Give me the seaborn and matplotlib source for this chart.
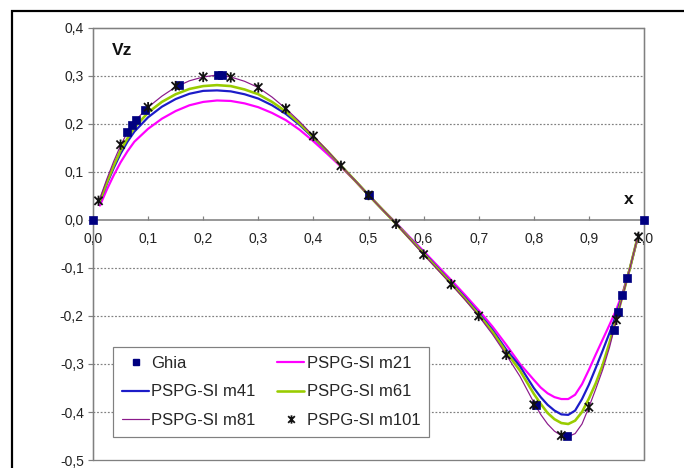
import matplotlib
matplotlib.use("Agg")
import numpy as np
import pandas as pd
import matplotlib.pyplot as plt
from matplotlib.path import Path
from matplotlib.lines import Line2D
from matplotlib.patches import Rectangle
import seaborn as sns

# Vertical velocity along the horizontal centre line of the cavity
x_ghia = [0.0, 0.0625, 0.0703, 0.0781, 0.0938, 0.1563, 0.2266, 0.2344, 0.5,
          0.8047, 0.8594, 0.9453, 0.9531, 0.9609, 0.9688, 1.0]
v_ghia = [0.0, 0.18360, 0.19713, 0.20920, 0.22965, 0.28124, 0.30203, 0.30174,
          0.05186, -0.38598, -0.44993, -0.22847, -0.19254, -0.15663, -0.12146, 0.0]

x_line = [0.0125, 0.025, 0.0375, 0.05, 0.0625, 0.075, 0.1, 0.125, 0.15, 0.175,
          0.2, 0.225, 0.25, 0.275, 0.3, 0.325, 0.35, 0.375, 0.4, 0.425, 0.45,
          0.475, 0.5, 0.525, 0.55, 0.575, 0.6, 0.625, 0.65, 0.675, 0.7, 0.725,
          0.75, 0.775, 0.8, 0.8125, 0.825, 0.8375, 0.85, 0.8625, 0.875, 0.8875,
          0.9, 0.9125, 0.925, 0.9375, 0.95, 0.9625, 0.975, 0.9875]

v_m21 = [0.030, 0.063, 0.093, 0.120, 0.143, 0.163, 0.190, 0.211, 0.227, 0.239,
         0.246, 0.249, 0.248, 0.243, 0.235, 0.223, 0.208, 0.188, 0.164, 0.138,
         0.111, 0.082, 0.052, 0.022, -0.006, -0.036, -0.065, -0.095, -0.125,
         -0.156, -0.188, -0.222, -0.260,
         -0.300, -0.333, -0.349, -0.361, -0.369, -0.373, -0.373, -0.364,
         -0.342, -0.312, -0.280, -0.249, -0.218, -0.186, -0.147, -0.098, -0.042]

v_m41 = [0.038, 0.075, 0.108, 0.138, 0.163, 0.184, 0.214, 0.236, 0.252, 0.263,
         0.269, 0.270, 0.268, 0.262, 0.253, 0.239, 0.221, 0.198, 0.171, 0.143,
         0.113, 0.083, 0.052, 0.022, -0.007, -0.038, -0.068, -0.099, -0.130,
         -0.161, -0.194, -0.229, -0.270,
         -0.305, -0.350, -0.369, -0.385, -0.397, -0.405, -0.406, -0.397,
         -0.373, -0.343, -0.308, -0.272, -0.235, -0.196, -0.150, -0.098, -0.041]

v_m61 = [0.040, 0.078, 0.113, 0.145, 0.170, 0.192, 0.224, 0.246, 0.262, 0.273,
         0.279, 0.281, 0.279, 0.272, 0.262, 0.246, 0.226, 0.201, 0.173, 0.144,
         0.113, 0.083, 0.052, 0.022, -0.008, -0.039, -0.070, -0.101, -0.132,
         -0.164, -0.197, -0.233, -0.275,
         -0.314, -0.362, -0.383, -0.402, -0.415, -0.423, -0.425, -0.418,
         -0.400, -0.372, -0.340, -0.302, -0.255, -0.205, -0.152, -0.098, -0.040]

v_m81 = [0.045, 0.085, 0.122, 0.155, 0.183, 0.205, 0.235, 0.258, 0.277, 0.290,
         0.298, 0.302, 0.298, 0.289, 0.276, 0.256, 0.232, 0.205, 0.175, 0.145,
         0.113, 0.083, 0.052, 0.022, -0.008, -0.040, -0.072, -0.103, -0.134,
         -0.166, -0.200, -0.238, -0.281,
         -0.326, -0.380, -0.405, -0.425, -0.440, -0.449, -0.451, -0.445,
         -0.425, -0.390, -0.352, -0.312, -0.265, -0.208, -0.153, -0.098, -0.040]

x_m101 = [0.01, 0.05, 0.1, 0.15, 0.2, 0.25, 0.3, 0.35, 0.4, 0.45, 0.5, 0.55,
          0.6, 0.65, 0.7, 0.75, 0.8, 0.85, 0.9, 0.95, 0.99]
v_m101 = [0.040, 0.157, 0.235, 0.279, 0.298, 0.297, 0.276, 0.232, 0.175, 0.113,
          0.052, -0.008, -0.072, -0.134, -0.200, -0.281, -0.385, -0.449, -0.390,
          -0.208, -0.035]

x_ticks = [0.0, 0.1, 0.2, 0.3, 0.4, 0.5, 0.6, 0.7, 0.8, 0.9, 1.0]
y_ticks = [-0.5, -0.4, -0.3, -0.2, -0.1, 0.0, 0.1, 0.2, 0.3, 0.4]

sns.set_style("white")
plt.rcParams["font.family"] = ["Liberation Sans", "DejaVu Sans"]

W, H = 684, 468
fig = plt.figure(figsize=(W / 100, H / 100), dpi=100)
ax = fig.add_axes([93 / W, 1 - 460 / H, (644 - 93) / W, (460 - 28) / H])

GREY = "#808080"
px = 0.72  # one pixel in points

series = [
    ("PSPG-SI m21", v_m21, "#ff00ff", 2.2),
    ("PSPG-SI m41", v_m41, "#1c1cc8", 2.2),
    ("PSPG-SI m61", v_m61, "#99cc00", 2.6),
    ("PSPG-SI m81", v_m81, "#8b1a8b", 1.2),
]
for name, vals, col, lw in series:
    df = pd.DataFrame({"x": x_line, "v": vals})
    sns.lineplot(data=df, x="x", y="v", ax=ax, color=col, lw=lw * px,
                 estimator=None, sort=True, zorder=3)

df_g = pd.DataFrame({"x": x_ghia, "v": v_ghia})
sns.scatterplot(data=df_g, x="x", y="v", ax=ax, marker="s", s=38,
                color="#000080", edgecolor="#000080", linewidth=0.5,
                zorder=4, clip_on=False)

# asterisk marker: an x with a vertical stroke
star = Path([(-1, -1), (1, 1), (-1, 1), (1, -1), (0, -1.25), (0, 1.25)],
            [Path.MOVETO, Path.LINETO] * 3)
df_s = pd.DataFrame({"x": x_m101, "v": v_m101})
sns.scatterplot(data=df_s, x="x", y="v", ax=ax, marker=star, s=55,
                facecolor="none", edgecolor="#111111", linewidth=1.3,
                zorder=5, clip_on=False)

ax.set_xlim(0, 1.0)
ax.set_ylim(-0.5, 0.4)
ax.set_xlabel("")
ax.set_ylabel("")

# dotted horizontal gridlines
for yv in [0.3, 0.2, 0.1, -0.1, -0.2, -0.3, -0.4]:
    ax.axhline(yv, color=GREY, lw=1.2 * px, ls=(0, (1.5, 1.5)), zorder=1)

# frame
for s in ["top", "right", "left"]:
    ax.spines[s].set_color(GREY)
    ax.spines[s].set_linewidth(1.3 * px)
ax.spines["bottom"].set_position(("data", 0.0))
ax.spines["bottom"].set_color(GREY)
ax.spines["bottom"].set_linewidth(1.6 * px)
ax.add_patch(Rectangle((0, 0), 1, 1, transform=ax.transAxes, fill=False,
                       ec=GREY, lw=1.3 * px, zorder=2, clip_on=False))

ax.set_xticks(x_ticks)
ax.set_xticklabels([f"{t:.1f}".replace(".", ",") for t in x_ticks])
ax.set_yticks(y_ticks)
ax.set_yticklabels([f"{t:.1f}".replace(".", ",") for t in y_ticks])
ax.tick_params(axis="x", direction="in", length=4 * px, width=1.2 * px,
               color=GREY, pad=9, labelsize=10, labelcolor="#222222")
ax.tick_params(axis="y", direction="out", length=5 * px, width=1.2 * px,
               color=GREY, pad=3, labelsize=10, labelcolor="#222222")
ax.tick_params(bottom=True, left=True)

ax.text(0.034, 0.354, "Vz", fontsize=12.5, fontweight="bold",
        va="center", ha="left", color="#111111")
ax.text(0.973, 0.042, "x", fontsize=12.5, fontweight="bold",
        va="center", ha="center", color="#111111")

handles = [
    Line2D([], [], ls="none", marker="s", ms=5, color="#000080"),
    Line2D([], [], color="#1c1cc8", lw=2.2 * px),
    Line2D([], [], color="#8b1a8b", lw=1.2 * px),
    Line2D([], [], color="#ff00ff", lw=2.2 * px),
    Line2D([], [], color="#99cc00", lw=2.6 * px),
    Line2D([], [], ls="none", marker=star, ms=6, mew=1.3, color="#111111"),
]
labels = ["Ghia", "PSPG-SI m41", "PSPG-SI m81",
          "PSPG-SI m21", "PSPG-SI m61", "PSPG-SI m101"]
leg = ax.legend(handles, labels, ncol=2, loc="lower left",
                bbox_to_anchor=(20 / 551, 23 / 432), borderaxespad=0,
                fontsize=12, frameon=True, fancybox=False, shadow=False,
                handlelength=1.6, handletextpad=0.15, columnspacing=1.3,
                labelspacing=0.8, borderpad=0.55)
leg.get_frame().set_edgecolor(GREY)
leg.get_frame().set_linewidth(1.2 * px)
leg.get_frame().set_facecolor("white")
leg.get_frame().set_alpha(1)
leg.set_zorder(6)

# outer black border of the chart
fig.add_artist(Rectangle((11.5 / W, -0.05), 2.0, 1 - 11 / H + 0.05,
                         transform=fig.transFigure, fill=False,
                         ec="black", lw=2.2 * px))

fig.savefig("out.png", dpi=100)
